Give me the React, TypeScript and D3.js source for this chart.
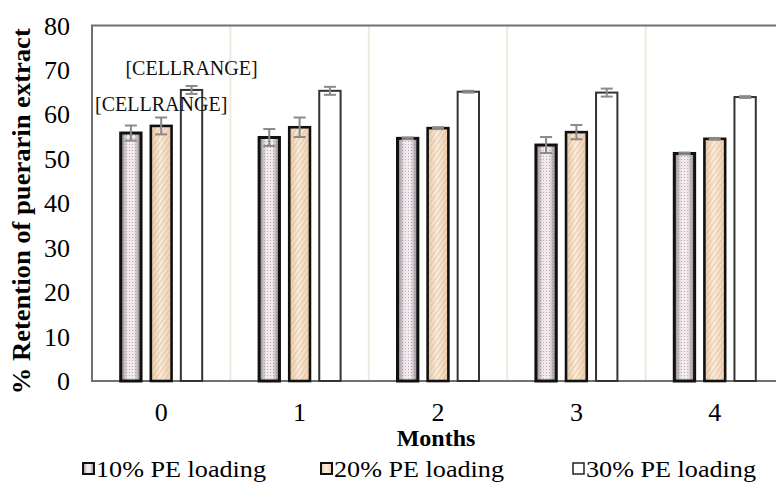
import { useEffect, useRef } from 'react';
import * as d3 from 'd3';

const months = ['0', '1', '2', '3', '4'];
const seriesNames = ['10% PE loading', '20% PE loading', '30% PE loading'];
const pe10 = [55.8, 54.8, 54.6, 53.1, 51.2];
const pe20 = [57.4, 57.1, 56.9, 56.0, 54.5];
const pe30 = [65.5, 65.3, 65.1, 64.9, 63.9];
const err10 = [1.7, 1.9, 0.2, 1.8, 0.2];
const err20 = [1.9, 2.2, 0.2, 1.6, 0.2];
const err30 = [0.9, 0.9, 0.2, 0.9, 0.2];
const yTicks = [0, 10, 20, 30, 40, 50, 60, 70, 80];
// data labels left unresolved in the source workbook
const cellLabels = [
  { month: '0', series: 2, text: '[CELLRANGE]' },
  { month: '0', series: 1, text: '[CELLRANGE]' },
];

export default function App() {
  const ref = useRef<SVGSVGElement>(null);

  useEffect(() => {
    if (!ref.current) return;
    const svg = d3.select(ref.current);
    svg.selectAll('*').remove();

    const width = 776;
    const height = 484;
    const left = 92, right = 784, top = 25.5, bottom = 381;
    const font = "'Liberation Serif', 'Times New Roman', serif";

    svg.attr('width', width).attr('height', height);

    const values = [pe10, pe20, pe30];
    const errs = [err10, err20, err30];

    const x0 = d3.scaleBand().domain(months).range([left, right]);
    const bw = x0.bandwidth();
    const x1 = d3.scaleBand<number>()
      .domain([0, 1, 2])
      .range([bw / 2 - 42, bw / 2 + 42])
      .paddingInner(0.23);
    const y = d3.scaleLinear().domain([0, 80]).range([bottom, top]);

    const defs = svg.append('defs');
    // series 1: pinkish grey, shaded edges with fine dots
    const g1 = defs.append('linearGradient').attr('id', 'grad1');
    g1.append('stop').attr('offset', '0%').attr('stop-color', '#8c8186');
    g1.append('stop').attr('offset', '35%').attr('stop-color', '#f2eaee');
    g1.append('stop').attr('offset', '65%').attr('stop-color', '#f2eaee');
    g1.append('stop').attr('offset', '100%').attr('stop-color', '#8c8186');
    const p1 = defs.append('pattern').attr('id', 'dots1')
      .attr('patternUnits', 'userSpaceOnUse').attr('width', 3).attr('height', 3);
    p1.append('rect').attr('width', 1).attr('height', 1).attr('fill', '#85787f').attr('opacity', 0.55);

    // series 2: peach with diagonal stripes
    const g2 = defs.append('linearGradient').attr('id', 'grad2');
    g2.append('stop').attr('offset', '0%').attr('stop-color', '#e6c7a6');
    g2.append('stop').attr('offset', '45%').attr('stop-color', '#fcefe0');
    g2.append('stop').attr('offset', '100%').attr('stop-color', '#ebcdaf');
    const p2 = defs.append('pattern').attr('id', 'stripes2')
      .attr('patternUnits', 'userSpaceOnUse').attr('width', 4).attr('height', 4)
      .attr('patternTransform', 'rotate(35)');
    p2.append('rect').attr('width', 1.5).attr('height', 4).attr('fill', '#dcae82').attr('opacity', 0.45);

    // vertical gridlines between months
    svg.append('g')
      .selectAll('line')
      .data(months.slice(1))
      .join('line')
      .attr('x1', d => x0(d)!)
      .attr('x2', d => x0(d)!)
      .attr('y1', top)
      .attr('y2', bottom)
      .attr('stroke', '#eeeade')
      .attr('stroke-width', 2);

    // plot frame
    svg.append('rect')
      .attr('x', left).attr('y', top)
      .attr('width', right - left).attr('height', bottom - top)
      .attr('fill', 'none')
      .attr('stroke', '#707070')
      .attr('stroke-width', 2);

    const strokes = [
      { color: '#111', w: 3 },
      { color: '#111', w: 2.6 },
      { color: '#333', w: 2 },
    ];

    values.forEach((vals, s) => {
      const g = svg.append('g');
      const bx = (i: number) => x0(months[i])! + x1(s)! + strokes[s].w / 2;
      const bwid = x1.bandwidth() - strokes[s].w;
      const bars = g.selectAll('g.bar')
        .data(vals)
        .join('g');
      const layers = s === 0 ? ['url(#grad1)', 'url(#dots1)']
        : s === 1 ? ['url(#grad2)', 'url(#stripes2)'] : ['#fff'];
      layers.forEach(f => {
        bars.append('rect')
          .attr('x', (d, i) => bx(i)).attr('y', d => y(d))
          .attr('width', bwid).attr('height', d => bottom - y(d))
          .attr('fill', f);
      });
      bars.append('rect')
        .attr('x', (d, i) => bx(i)).attr('y', d => y(d))
        .attr('width', bwid).attr('height', d => bottom - y(d))
        .attr('fill', 'none')
        .attr('stroke', strokes[s].color)
        .attr('stroke-width', strokes[s].w);

      // error bars
      const cx = (i: number) => x0(months[i])! + x1(s)! + x1.bandwidth() / 2;
      const eg = svg.append('g').attr('stroke', '#8a8a8a').attr('stroke-width', 2);
      vals.forEach((v, i) => {
        const e = errs[s][i];
        eg.append('line').attr('x1', cx(i)).attr('x2', cx(i)).attr('y1', y(v + e)).attr('y2', y(v - e));
        eg.append('line').attr('x1', cx(i) - 6).attr('x2', cx(i) + 6).attr('y1', y(v + e)).attr('y2', y(v + e));
        eg.append('line').attr('x1', cx(i) - 6).attr('x2', cx(i) + 6).attr('y1', y(v - e)).attr('y2', y(v - e));
      });
    });

    // data labels
    svg.append('g')
      .selectAll('text')
      .data(cellLabels)
      .join('text')
      .attr('x', d => x0(d.month)! + x1(d.series)! + x1.bandwidth() / 2)
      .attr('y', d => y(values[d.series][months.indexOf(d.month)]) - 15)
      .attr('text-anchor', 'middle')
      .style('font-family', font)
      .style('font-size', '20px')
      .style('fill', '#111')
      .text(d => d.text);

    // y tick labels
    svg.append('g')
      .selectAll('text')
      .data(yTicks)
      .join('text')
      .attr('x', 70)
      .attr('y', d => y(d) + 9)
      .attr('text-anchor', 'end')
      .style('font-family', font)
      .style('font-size', '26px')
      .text(d => d);

    // x tick labels
    svg.append('g')
      .selectAll('text')
      .data(months)
      .join('text')
      .attr('x', d => x0(d)! + bw / 2)
      .attr('y', 421)
      .attr('text-anchor', 'middle')
      .style('font-family', font)
      .style('font-size', '26px')
      .text(d => d);

    svg.append('text')
      .attr('x', (left + right) / 2 - 2)
      .attr('y', 446)
      .attr('text-anchor', 'middle')
      .style('font-family', font)
      .style('font-size', '24px')
      .style('font-weight', 'bold')
      .text('Months');

    svg.append('text')
      .attr('transform', `translate(30,${(top + bottom) / 2 + 8}) rotate(-90)`)
      .attr('text-anchor', 'middle')
      .attr('textLength', 366)
      .attr('lengthAdjust', 'spacingAndGlyphs')
      .style('font-family', font)
      .style('font-size', '26px')
      .style('font-weight', 'bold')
      .text('% Retention of puerarin extract');

    // legend
    const legendX = [82, 320, 572];
    const fills = ['url(#grad1)', 'url(#grad2)', '#fff'];
    const legend = svg.append('g')
      .selectAll('g')
      .data(seriesNames)
      .join('g')
      .attr('transform', (d, i) => `translate(${legendX[i]},0)`);
    legend.append('rect')
      .attr('x', 1).attr('y', 463).attr('width', 11).attr('height', 11)
      .attr('fill', (d, i) => fills[i])
      .attr('stroke', (d, i) => (i === 2 ? '#222' : '#111'))
      .attr('stroke-width', (d, i) => (i === 2 ? 1.5 : 2));
    legend.append('text')
      .attr('x', 14)
      .attr('y', 477)
      .attr('textLength', 170)
      .attr('lengthAdjust', 'spacingAndGlyphs')
      .style('font-family', font)
      .style('font-size', '24px')
      .text(d => d);
  }, []);

  return (
    <svg ref={ref} style={{ position: 'absolute', left: 0, top: 0, background: '#fff' }}></svg>
  );
}
